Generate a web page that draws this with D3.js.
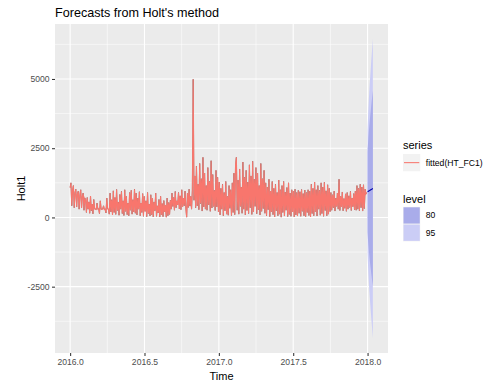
<!DOCTYPE html>
<html>
<head>
<meta charset="utf-8">
<script src="https://cdn.jsdelivr.net/npm/d3@7"></script>
<style>
body { margin: 0; background: #fff; }
text { font-family: "Liberation Sans", Arial, sans-serif; }
</style>
</head>
<body>
<div id="chart"></div>
<script>
// observed series (every 2nd day, 2016.0 - 2017.99)
var holt1 = [
  1080, 1250, 420, 980, 1150, 350, 900, 1020, 380, 860, 950, 300, 820, 1000, 340, 760, 880, 260, 700, 640,
  180, 720, 300, 560, 150, 770, 240, 480, 130, 650, 310, 300, 290, 520, 300, 310, 140, 600, 300, 290,
  310, 420, 280, 300, 160, 700, 310, 300, 120, 880, 200, 640, 90, 960, 180, 720, 110, 1010, 250, 560,
  80, 830, 300, 940, 140, 600, 70, 1000, 220, 760, 100, 520, 60, 900, 260, 980, 120, 640, 200, 1020,
  150, 880, 90, 700, 300, 930, 60, 520, 180, 860, 40, 760, 220, 600, 30, 900, 140, 480, 50, 820,
  100, 700, 20, 560, 240, 880, 40, 420, 160, 650, 15, 760, 90, 500, 30, 610, 200, 450, 10, 700,
  60, 540, 110, 620, 300, 880, 400, 720, 260, 940, 350, 600, 450, 900, 310, 780, 280, 1000, 380, 700,
  420, 950, 330, 10, 880, 360, 1020, 410, 760, 300, 980, 4990, 620, 1500, 350, 1850, 420, 1200, 280, 1950,
  500, 1400, 230, 2170, 380, 1600, 300, 1150, 260, 1800, 450, 1300, 220, 2050, 340, 1550, 400, 980, 250, 1700,
  380, 1450, 200, 1280, 90, 1050, 300, 1200, 60, 900, 240, 1300, 120, 760, 80, 1150, 330, 1000, 70, 1250,
  180, 1600, 100, 1900, 2170, 260, 1350, 120, 1750, 400, 1100, 150, 2000, 300, 1450, 90, 1700, 250, 1280, 140,
  1900, 350, 1500, 110, 2030, 200, 1380, 400, 1800, 130, 1600, 280, 1150, 90, 1950, 220, 1400, 320, 1700, 150,
  1250, 60, 1100, 280, 1380, 30, 950, 200, 1300, 100, 1050, 20, 1200, 240, 900, 60, 1350, 120, 1000, 10,
  1150, 180, 1300, 50, 920, 260, 1080, 30, 1250, 110, 880, 40, 1000, 200, 950, 20, 1020, 90, 900, 50,
  980, 150, 930, 40, 1010, 220, 860, 60, 990, 30, 900, 180, 1000, 70, 950, 20, 1200, 140, 1050, 60,
  1280, 200, 1000, 50, 1150, 300, 980, 80, 1250, 140, 1100, 40, 1270, 250, 960, 60, 1180, 120, 1050, 210,
  900, 260, 820, 350, 950, 230, 700, 400, 880, 300, 1380, 250, 760, 380, 920, 240, 680, 330, 850, 220,
  900, 300, 780, 360, 940, 250, 700, 390, 860, 280, 950, 260, 1150, 300, 1050, 240, 1200, 350, 1100, 230,
  1180, 320, 1020, 850, 900
];

// 14 day forecast
var fcMean = [925, 934, 943, 952, 961, 970, 980, 989, 998, 1007, 1016, 1026, 1036, 1045];
var lo80 = [-535, -786, -997, -1178, -1339, -1490, -1630, -1761, -1882, -2013, -2134, -2264, -2374, -2485];
var hi80 = [2385, 2654, 2883, 3082, 3261, 3430, 3590, 3739, 3878, 4027, 4166, 4316, 4446, 4575];
var lo95 = [-1315, -1696, -2027, -2308, -2559, -2790, -3010, -3211, -3412, -3613, -3794, -3994, -4184, -4355];
var hi95 = [3165, 3564, 3913, 4212, 4481, 4730, 4970, 5189, 5408, 5627, 5826, 6046, 6256, 6445];

var xTicks = [2016.0, 2016.5, 2017.0, 2017.5, 2018.0];
var xMinor = [2016.25, 2016.75, 2017.25, 2017.75];
var yTicks = [-2500, 0, 2500, 5000];
var yMinor = [-3750, -1250, 1250, 3750, 6250];
var seriesNames = ["fitted(HT_FC1)"];
var levels = ["80", "95"];

var W = 488, H = 385;
var panel = {left: 55, right: 388, top: 24, bottom: 353};
var red = "#F8766D", fcBlue = "#0000AA";
var fill80 = "#A9ACEA", fill95 = "#CBCDF6";

var obs = holt1.map(function(v, i) { return {t: 2016 + i * 2 / 365, v: v}; });
var fc = fcMean.map(function(v, i) {
    return {t: 2018 + i / 365, m: v, lo80: lo80[i], hi80: hi80[i], lo95: lo95[i], hi95: hi95[i]};
});

function expand(ext) {
    var pad = (ext[1] - ext[0]) * 0.05;
    return [ext[0] - pad, ext[1] + pad];
}

var xExt = [obs[0].t, fc[fc.length - 1].t];
var yExt = [d3.min(holt1.concat(lo95)), d3.max(holt1.concat(hi95))];

var x = d3.scaleLinear().domain(expand(xExt)).range([panel.left, panel.right]);
var y = d3.scaleLinear().domain(expand(yExt)).range([panel.bottom, panel.top]);

var svg = d3.select("#chart").append("svg")
    .attr("width", W)
    .attr("height", H);

svg.append("rect").attr("width", W).attr("height", H).attr("fill", "#fff");

svg.append("defs").append("clipPath").attr("id", "clip")
    .append("rect")
    .attr("x", panel.left).attr("y", panel.top)
    .attr("width", panel.right - panel.left).attr("height", panel.bottom - panel.top);

svg.append("rect")
    .attr("x", panel.left).attr("y", panel.top)
    .attr("width", panel.right - panel.left).attr("height", panel.bottom - panel.top)
    .attr("fill", "#EBEBEB");

// grid
var grid = svg.append("g");
grid.selectAll(".ymin").data(yMinor).enter().append("line")
    .attr("x1", panel.left).attr("x2", panel.right)
    .attr("y1", function(d) { return y(d); }).attr("y2", function(d) { return y(d); })
    .attr("stroke", "#fff").attr("stroke-width", 0.55);
grid.selectAll(".xmin").data(xMinor).enter().append("line")
    .attr("y1", panel.top).attr("y2", panel.bottom)
    .attr("x1", function(d) { return x(d); }).attr("x2", function(d) { return x(d); })
    .attr("stroke", "#fff").attr("stroke-width", 0.55);
grid.selectAll(".ymaj").data(yTicks).enter().append("line")
    .attr("x1", panel.left).attr("x2", panel.right)
    .attr("y1", function(d) { return y(d); }).attr("y2", function(d) { return y(d); })
    .attr("stroke", "#fff").attr("stroke-width", 1.1);
grid.selectAll(".xmaj").data(xTicks).enter().append("line")
    .attr("y1", panel.top).attr("y2", panel.bottom)
    .attr("x1", function(d) { return x(d); }).attr("x2", function(d) { return x(d); })
    .attr("stroke", "#fff").attr("stroke-width", 1.1);

var plot = svg.append("g").attr("clip-path", "url(#clip)");

var line = d3.line()
    .x(function(d) { return x(d.t); })
    .y(function(d) { return y(d.v); });

// observed data (mostly hidden under the fitted line)
plot.append("path")
    .datum(obs)
    .attr("d", line)
    .attr("fill", "none")
    .attr("stroke", "#000")
    .attr("stroke-width", 0.4);

// prediction intervals
plot.append("path")
    .datum(fc)
    .attr("d", d3.area()
        .x(function(d) { return x(d.t); })
        .y0(function(d) { return y(d.lo95); })
        .y1(function(d) { return y(d.hi95); }))
    .attr("fill", fill95);

plot.append("path")
    .datum(fc)
    .attr("d", d3.area()
        .x(function(d) { return x(d.t); })
        .y0(function(d) { return y(d.lo80); })
        .y1(function(d) { return y(d.hi80); }))
    .attr("fill", fill80);

plot.append("path")
    .datum(fc)
    .attr("d", d3.line()
        .x(function(d) { return x(d.t); })
        .y(function(d) { return y(d.m); }))
    .attr("fill", "none")
    .attr("stroke", fcBlue)
    .attr("stroke-width", 1.1);

// fitted values
plot.append("path")
    .datum(obs)
    .attr("d", line)
    .attr("fill", "none")
    .attr("stroke", red)
    .attr("stroke-width", 1.1);

// axes
var xAxis = d3.axisBottom(x).tickValues(xTicks).tickFormat(d3.format(".1f")).tickSize(3).tickPadding(3);
var yAxis = d3.axisLeft(y).tickValues(yTicks).tickFormat(function(d) { return String(d); }).tickSize(3).tickPadding(2.5);

var gx = svg.append("g").attr("transform", "translate(0," + panel.bottom + ")").call(xAxis);
var gy = svg.append("g").attr("transform", "translate(" + panel.left + ",0)").call(yAxis);
[gx, gy].forEach(function(g) {
    g.select(".domain").remove();
    g.selectAll(".tick line").attr("stroke", "#333333").attr("stroke-width", 1.05);
    g.selectAll(".tick text")
        .attr("fill", "#4D4D4D")
        .style("font-size", "8.6px")
        .style("font-family", "'Liberation Sans', Arial, sans-serif");
});

svg.append("text")
    .attr("x", panel.left)
    .attr("y", 17.3)
    .style("font-size", "12.6px")
    .text("Forecasts from Holt's method");

svg.append("text")
    .attr("x", (panel.left + panel.right) / 2)
    .attr("y", 380)
    .attr("text-anchor", "middle")
    .style("font-size", "11px")
    .text("Time");

svg.append("text")
    .attr("transform", "translate(25," + ((panel.top + panel.bottom) / 2) + ") rotate(-90)")
    .attr("text-anchor", "middle")
    .style("font-size", "11px")
    .text("Holt1");

// legends
var lx = 403, key = 17.28;
var leg = svg.append("g");

leg.append("text").attr("x", lx).attr("y", 149).style("font-size", "11px").text("series");
var sk = leg.selectAll(".sk").data(seriesNames).enter().append("g")
    .attr("transform", function(d, i) { return "translate(" + lx + "," + (154 + i * key) + ")"; });
sk.append("rect").attr("width", key).attr("height", key).attr("fill", "#F2F2F2");
sk.append("line")
    .attr("x1", 1).attr("x2", key - 1)
    .attr("y1", key / 2).attr("y2", key / 2)
    .attr("stroke", red).attr("stroke-width", 1.05);
sk.append("text")
    .attr("x", key + 5.5).attr("y", key / 2).attr("dy", "0.35em")
    .style("font-size", "8.6px")
    .text(function(d) { return d; });

leg.append("text").attr("x", lx).attr("y", 202.7).style("font-size", "11px").text("level");
var levelFill = d3.scaleOrdinal().domain(levels).range([fill80, fill95]);
var lk = leg.selectAll(".lk").data(levels).enter().append("g")
    .attr("transform", function(d, i) { return "translate(" + lx + "," + (206.8 + i * key) + ")"; });
lk.append("rect").attr("width", key).attr("height", key).attr("fill", "#F2F2F2");
lk.append("rect")
    .attr("x", 0.5).attr("y", 0.5)
    .attr("width", key - 1).attr("height", key - 1)
    .attr("fill", function(d) { return levelFill(d); });
lk.append("text")
    .attr("x", key + 5.5).attr("y", key / 2).attr("dy", "0.35em")
    .style("font-size", "8.6px")
    .text(function(d) { return d; });
</script>
</body>
</html>
